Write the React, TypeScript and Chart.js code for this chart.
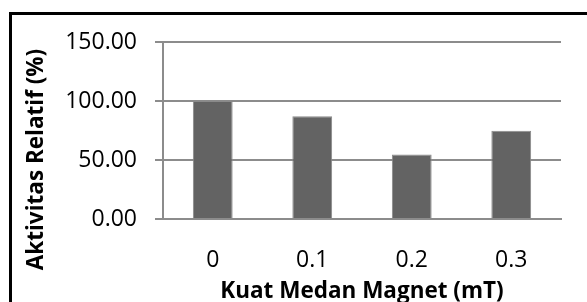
import React, { useEffect, useRef } from "react";
import { Chart, registerables } from "chart.js";

Chart.register(...registerables);

const categories = ["0", "0.1", "0.2", "0.3"];
const activityValues = [100, 87, 54.6, 74.7];
const yTickValues = [0, 50, 100, 150];
const xAxisTitle = "Kuat Medan Magnet (mT)";
const yAxisTitle = "Aktivitas Relatif (%)";

const FONT = "'Open Sans', 'Noto Sans', sans-serif";

export default function App() {
  const ref = useRef<HTMLCanvasElement | null>(null);

  useEffect(() => {
    const canvas = ref.current;
    if (!canvas) return;

    const framePlugin = {
      id: "frameAndYTitle",
      beforeDraw(chart: any) {
        const ctx = chart.ctx;
        ctx.save();
        ctx.fillStyle = "#ffffff";
        ctx.fillRect(0, 0, chart.width, chart.height);
        ctx.strokeStyle = "#000000";
        ctx.lineWidth = 3;
        ctx.strokeRect(10.5, 13.5, chart.width + 20, chart.height + 20);
        ctx.restore();
      },
      afterDraw(chart: any) {
        const ctx = chart.ctx;
        ctx.save();
        ctx.translate(37, 159.5);
        ctx.rotate(-Math.PI / 2);
        ctx.font = `bold 22.5px ${FONT}`;
        ctx.fillStyle = "#000000";
        ctx.textAlign = "center";
        ctx.textBaseline = "middle";
        ctx.fillText(yAxisTitle, 0, 0);
        ctx.restore();
      },
    };

    const chart = new Chart(canvas, {
      type: "bar",
      data: {
        labels: categories,
        datasets: [
          {
            data: activityValues,
            backgroundColor: "#636363",
            borderColor: "#8a8a8a",
            borderWidth: 1,
            categoryPercentage: 1,
            barPercentage: 0.4,
          },
        ],
      },
      options: {
        responsive: false,
        animation: false,
        layout: { padding: { left: 0, right: 26, top: 42, bottom: 0 } },
        plugins: {
          legend: { display: false },
          tooltip: { enabled: false },
        },
        scales: {
          x: {
            grid: { display: false, drawTicks: false },
            border: { display: true, color: "#8c8c8c", width: 2 },
            ticks: {
              color: "#000000",
              font: { family: FONT, size: 23 },
              padding: 28,
            },
            title: {
              display: true,
              text: xAxisTitle,
              color: "#000000",
              font: { family: FONT, size: 22.5, weight: "bold" },
              padding: { top: 0, bottom: -3 },
            },
            afterFit(scale: any) {
              scale.height = 83;
            },
          },
          y: {
            min: 0,
            max: 150,
            afterBuildTicks(scale: any) {
              scale.ticks = yTickValues.map((v) => ({ value: v }));
            },
            grid: {
              color: "#8c8c8c",
              lineWidth: 2,
              tickLength: 8,
              drawTicks: true,
            },
            border: { display: true, color: "#8c8c8c", width: 2 },
            ticks: {
              color: "#000000",
              font: { family: FONT, size: 23 },
              padding: 18,
              callback: (v: any) => Number(v).toFixed(2),
            },
            afterFit(scale: any) {
              scale.width = 163;
            },
          },
        },
      },
      plugins: [framePlugin],
    });

    return () => chart.destroy();
  }, []);

  return (
    <div style={{ position: "fixed", left: 0, top: 0, width: 587, height: 302, overflow: "hidden" }}>
      <canvas ref={ref} width={587} height={302} style={{ display: "block" }} />
    </div>
  );
}
